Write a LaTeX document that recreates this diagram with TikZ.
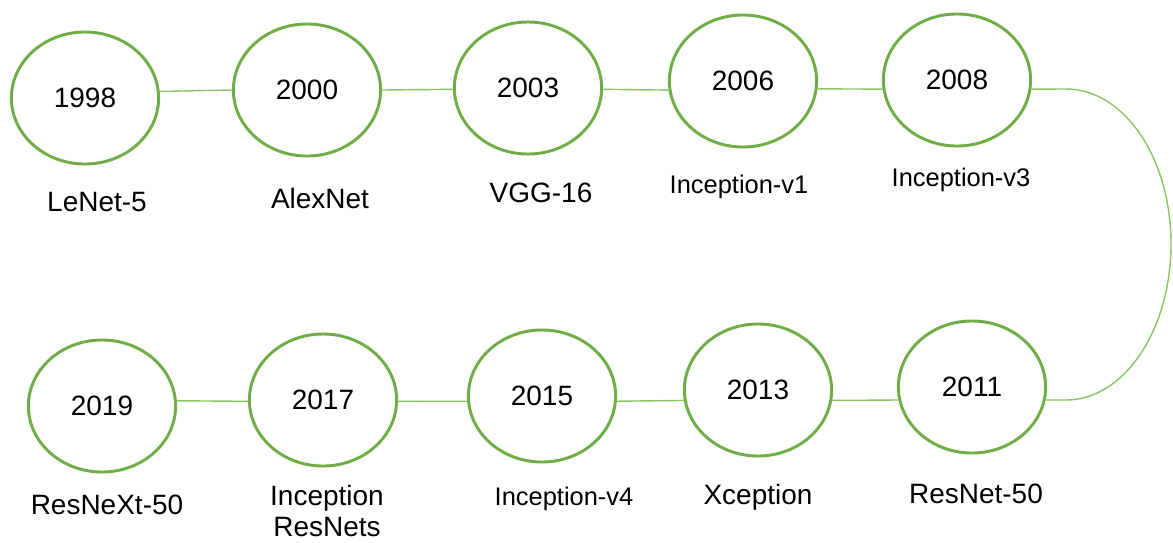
\documentclass[tikz,border=0pt]{standalone}
\usepackage{fontspec}
\setmainfont{Liberation Sans}
\usepackage{tikz}
\usetikzlibrary{positioning,shapes.geometric}
\usepackage{xcolor}
\definecolor{leafgreen}{RGB}{112,173,71}
\definecolor{palegreen}{RGB}{140,196,100}
\tikzset{
  year/.style={ellipse, draw=leafgreen, line width=2.1pt, fill=white,
               minimum width=3.68cm, minimum height=3.3cm, inner sep=0pt,
               font=\fontsize{19.9}{24}\selectfont},
  net/.style={font=\fontsize{19.9}{22.6}\selectfont, align=center, inner sep=0pt},
  netsmall/.style={net, font=\fontsize{18.1}{22}\selectfont},
  link/.style={draw=palegreen, line width=1pt},
}
\begin{document}
\begin{tikzpicture}[x=0.025cm, y=-0.025cm]
\useasboundingbox (0,0) rectangle (1173,542);

% ---- Row 1: left to right ----
\node[year] (y1998) at (85,98) {1998};
\node[year] (y2000) at (307,90) {2000};
\node[year] (y2003) at (528,88) {2003};
\node[year] (y2006) at (743,81) {2006};
\node[year] (y2008) at (957,80) {2008};

% ---- Row 2: right to left ----
\node[year] (y2011) at (972,387) {2011};
\node[year] (y2013) at (758,390) {2013};
\node[year] (y2015) at (542,396) {2015};
\node[year] (y2017) at (323,400) {2017};
\node[year] (y2019) at (102,406) {2019};

% ---- Model names ----
\node[net] (lenet) at (97,202) {LeNet-5};
\node[net] (alexnet) at (320,198) {AlexNet};
\node[net] (vgg) at (541,193) {VGG-16};
\node[netsmall] (incv1) at (739,187) {Inception-v1};
\node[netsmall] (incv3) at (961,180) {Inception-v3};
\node[net] (resnet) at (976,494) {ResNet-50};
\node[net] (xcept) at (758,497) {Xception};
\node[netsmall] (incv4) at (564,499) {Inception-v4};
\node[net] (incres) at (327,511) {Inception\\ResNets};
\node[net] (resnext) at (107,505) {ResNeXt-50};

% ---- Links (anchor angles keep them level) ----
\foreach \a/\p/\b/\q in {y1998/5/y2000/180, y2000/0/y2003/181, y2003/-1/y2006/187, y2006/-6/y2008/187}
  \draw[link] (\a.\p) -- (\b.\q);
\draw[link] (y2008.-7) -- (1066,89) .. controls (1124,89) and (1171,158) .. (1171,244)
  .. controls (1171,330) and (1124,400) .. (1066,400) -- (y2011.-10);
\foreach \a/\p/\b/\q in {y2011/190/y2013/-8, y2013/188/y2015/-4, y2015/184/y2017/-1, y2017/181/y2019/4}
  \draw[link] (\a.\p) -- (\b.\q);
\end{tikzpicture}
\end{document}
